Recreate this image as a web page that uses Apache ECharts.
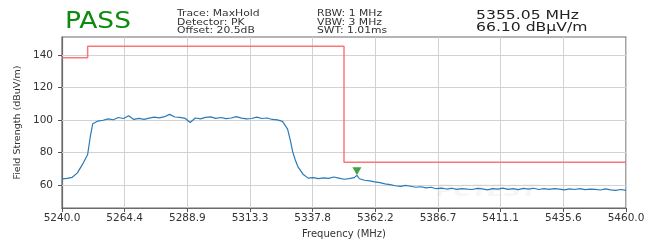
<!DOCTYPE html>
<html>
<head>
<meta charset="utf-8">
<script src="https://cdn.jsdelivr.net/npm/echarts@6/dist/echarts.min.js"></script>
<style>
  html, body { margin: 0; padding: 0; background: #fff; }
  #chart { width: 652px; height: 244px; }
</style>
</head>
<body>
<div id="chart"></div>
<script>
// sweep start, used as x-axis origin so the 9 ticks land on the plot edges
var startFreq = 5240;
var stopFreq = 5460;

var xTickCount = 9;
var yTicks = [60, 80, 100, 120, 140];

// MaxHold trace (MHz, dBuV/m)
var traceFreq = [
  5240, 5242, 5244, 5246, 5248, 5250, 5251, 5252, 5254, 5256, 5258, 5260, 5262, 5264,
  5266, 5268, 5270, 5272, 5274, 5276, 5278, 5280, 5282, 5284, 5286, 5288, 5290, 5292,
  5294, 5296, 5298, 5300, 5302, 5304, 5306, 5308, 5310, 5312, 5314, 5316, 5318, 5320,
  5322, 5324, 5326, 5328, 5329, 5330, 5331, 5332, 5334, 5336, 5338, 5340, 5342, 5344,
  5346, 5348, 5350, 5352, 5354, 5355.05, 5356, 5358, 5360, 5362, 5364, 5366, 5368, 5370,
  5372, 5374, 5376, 5378, 5380, 5382, 5384, 5386, 5388, 5390, 5392, 5394, 5396, 5398,
  5400, 5402, 5404, 5406, 5408, 5410, 5412, 5414, 5416, 5418, 5420, 5422, 5424, 5426,
  5428, 5430, 5432, 5434, 5436, 5438, 5440, 5442, 5444, 5446, 5448, 5450, 5452, 5454,
  5456, 5458, 5460
];
var traceLevel = [
  63.9, 64.2, 64.9, 67.6, 72.8, 78.9, 89.5, 97.8, 99.4, 99.9, 100.8, 100.2, 101.6, 101.0,
  102.7, 100.4, 101.1, 100.5, 101.2, 101.8, 101.4, 102.1, 103.5, 101.9, 101.7, 101.1, 98.5, 101.3,
  100.8, 101.7, 102.0, 101.1, 101.6, 100.9, 101.3, 102.1, 101.2, 100.7, 101.0, 101.8, 101.0, 101.3,
  100.4, 100.1, 99.2, 94.5, 88.0, 80.5, 75.5, 71.5, 66.8, 64.4, 64.7, 64.1, 64.6, 64.2,
  65.1, 64.4, 63.7, 64.1, 64.7, 66.1, 64.0, 63.1, 62.7, 62.1, 61.6, 60.9, 60.4, 59.7,
  59.3, 59.9, 59.4, 58.8, 59.1, 58.4, 58.8, 57.9, 58.3, 57.7, 58.2, 57.5, 58.0, 57.6,
  57.4, 58.1, 57.8, 57.2, 58.0, 57.6, 58.3, 57.5, 57.9, 57.3, 58.1, 57.7, 58.2, 57.4,
  57.9, 57.5, 58.0, 57.6, 57.2, 57.8, 57.4, 57.9, 57.3, 57.7, 57.5, 57.1, 57.8, 57.2,
  56.9, 57.4, 56.9
];

// limit line
var limitFreq = [5240, 5250, 5250, 5350, 5350, 5460];
var limitLevel = [138.3, 138.3, 145.3, 145.3, 74.2, 74.2];

// marker
var markerFreq = [5355.05];
var markerLevel = [66.1];

var verdict = 'PASS';
var settingsLeft = ['Trace: MaxHold', 'Detector: PK', 'Offset: 20.5dB'];
var settingsRight = ['RBW: 1 MHz', 'VBW: 3 MHz', 'SWT: 1.01ms'];
var readout = ['5355.05 MHz', '66.10 dB\u03bcV/m'];

function pairs(fs, vs) {
  var out = [];
  for (var i = 0; i < fs.length; i++) out.push([fs[i] - startFreq, vs[i]]);
  return out;
}

var chart = echarts.init(document.getElementById('chart'), null, { renderer: 'canvas' });
var font = 'DejaVu Sans';

var graphics = [
  { type: 'text', x: 65, y: 22, scaleX: 1.15,
    style: { text: verdict, font: '23px "' + font + '"', fill: '#0e8a0e', verticalAlign: 'middle' } }
];
settingsLeft.forEach(function (t, i) {
  graphics.push({ type: 'text', x: 177, y: 13.5 + i * 8.7, scaleX: 1.2,
    style: { text: t, font: '9px "' + font + '"', fill: '#333', verticalAlign: 'middle' } });
});
settingsRight.forEach(function (t, i) {
  graphics.push({ type: 'text', x: 317, y: 13.5 + i * 8.7, scaleX: 1.2,
    style: { text: t, font: '9px "' + font + '"', fill: '#333', verticalAlign: 'middle' } });
});
readout.forEach(function (t, i) {
  graphics.push({ type: 'text', x: 476, y: 16 + i * 12, scaleX: 1.25,
    style: { text: t, font: '12.5px "' + font + '"', fill: '#222', verticalAlign: 'middle' } });
});
// faint watermark
graphics.push({ type: 'text', x: 436, y: 192, scaleX: 1.6, z: 0,
  style: { text: 'PCTEST', font: 'italic bold 15px "' + font + '"', fill: 'rgba(180,185,200,0.12)', verticalAlign: 'middle' } });

// horizontal grid lines at the labelled levels
var yGrid = yTicks.map(function (v) { return { yAxis: v }; });

chart.setOption({
  animation: false,
  backgroundColor: '#ffffff',
  textStyle: { fontFamily: font },
  grid: {
    left: 62, right: 26, top: 37, bottom: 27,
    show: true, borderColor: '#6a6a6a', borderWidth: 1.2, backgroundColor: 'transparent'
  },
  xAxis: {
    type: 'value',
    min: 0,
    max: stopFreq - startFreq,
    interval: (stopFreq - startFreq) / xTickCount,
    name: 'Frequency (MHz)',
    nameLocation: 'middle',
    nameGap: 15,
    nameTextStyle: { fontSize: 10, color: '#333', fontFamily: font },
    axisLine: { show: true, lineStyle: { color: '#6a6a6a', width: 1.2 } },
    axisTick: { show: true, length: 4, lineStyle: { color: '#555' } },
    axisLabel: {
      margin: 5, fontSize: 10.5, color: '#333', fontFamily: font,
      formatter: function (v) { return (v + startFreq).toFixed(1); }
    },
    splitLine: { show: true, lineStyle: { color: '#d2d2d2', width: 1 } }
  },
  yAxis: {
    type: 'value',
    min: 46,
    max: 151,
    name: 'Field Strength (dBuV/m)',
    nameLocation: 'middle',
    nameRotate: 90,
    nameGap: 37,
    nameTextStyle: { fontSize: 9.5, color: '#333', fontFamily: font },
    axisLine: { show: true, lineStyle: { color: '#6a6a6a', width: 1.2 } },
    axisTick: { show: true, length: 4, customValues: yTicks, lineStyle: { color: '#555' } },
    axisLabel: {
      margin: 9, fontSize: 10.5, color: '#333', fontFamily: font,
      customValues: yTicks
    },
    splitLine: { show: false }
  },
  graphic: graphics,
  series: [
    {
      name: 'Limit',
      type: 'line',
      data: pairs(limitFreq, limitLevel),
      showSymbol: false,
      lineStyle: { color: '#f46a6a', width: 1.5, opacity: 0.9 },
      markLine: {
        silent: true,
        symbol: 'none',
        label: { show: false },
        lineStyle: { color: '#d2d2d2', width: 1, type: 'solid' },
        data: yGrid,
        z: 1
      },
      z: 2
    },
    {
      name: 'MaxHold',
      type: 'line',
      data: pairs(traceFreq, traceLevel),
      showSymbol: false,
      lineStyle: { color: '#2a7ab8', width: 1.2 },
      z: 3
    },
    {
      name: 'Marker',
      type: 'scatter',
      data: pairs(markerFreq, markerLevel),
      symbol: 'triangle',
      symbolRotate: 180,
      symbolSize: [9, 8],
      symbolOffset: [0, -4],
      itemStyle: { color: '#138a13' },
      z: 4
    }
  ]
});
</script>
</body>
</html>
